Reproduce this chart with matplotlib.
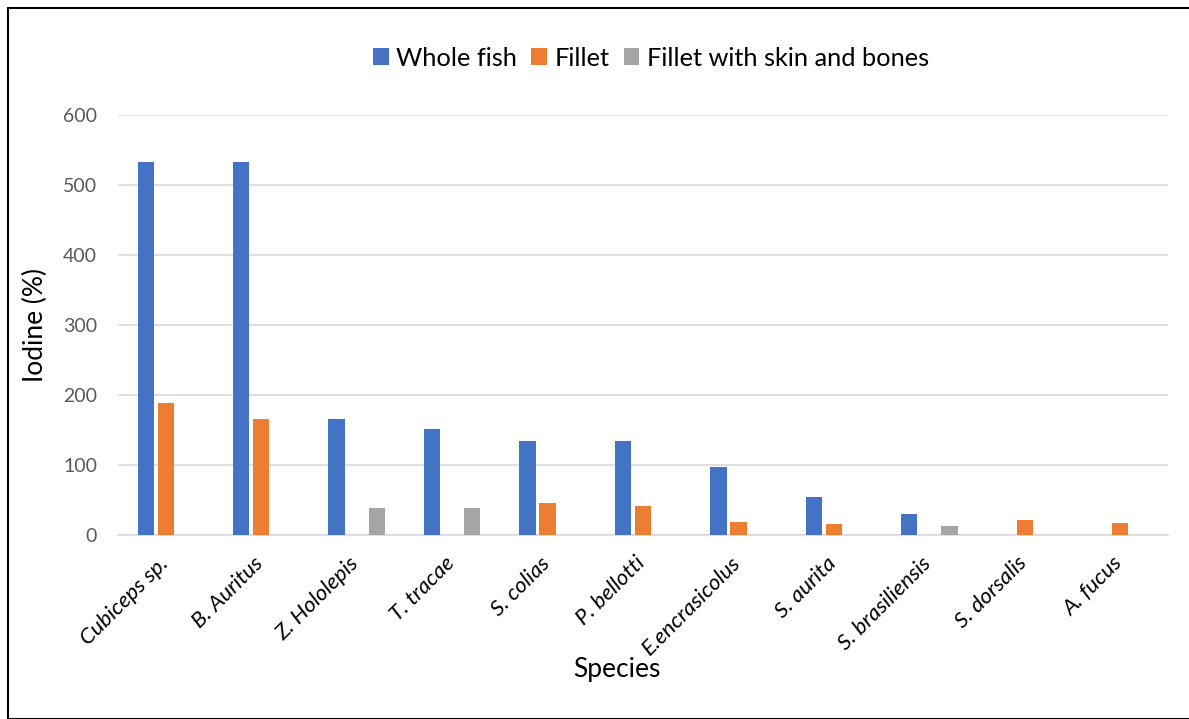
import matplotlib
matplotlib.use("Agg")
import matplotlib.pyplot as plt
import matplotlib.transforms as mtransforms
import numpy as np
from matplotlib.patches import Rectangle

species = ["Cubiceps sp.", "B. Auritus", "Z. Hololepis", "T. tracae", "S. colias",
           "P. bellotti", "E.encrasicolus", "S. aurita", "S. brasiliensis",
           "S. dorsalis", "A. fucus"]
whole_fish = [533, 533, 166, 152, 135, 135, 97, 54, 30, 0, 0]
fillet = [189, 166, 0, 0, 46, 41, 19, 16, 0, 21, 17]
fillet_skin_bones = [0, 0, 39, 39, 0, 0, 0, 0, 13, 0, 0]
series_names = ["Whole fish", "Fillet", "Fillet with skin and bones"]
colors = ["#4472C4", "#ED7D31", "#A5A5A5"]
yticks = [0, 100, 200, 300, 400, 500, 600]

plt.rcParams['font.family'] = ['Lato', 'DejaVu Sans']

W, H = 1189, 719
fig = plt.figure(figsize=(W/100, H/100), dpi=100)
ax = fig.add_axes([118/W, 1-535/H, (1168-118)/W, (535-115)/H])

x = np.arange(len(species))
slot = 0.21
bw = 0.17
handles = []
for i, (vals, name, c) in enumerate(zip([whole_fish, fillet, fillet_skin_bones], series_names, colors)):
    v = np.array(vals, dtype=float)
    mask = v > 0
    b = ax.bar(x[mask] + (i-1)*slot, v[mask], width=bw, color=c, label=name, zorder=3)
    handles.append(b)

ax.set_xlim(-0.5, len(species)-0.5)
ax.set_ylim(0, 600)
ax.set_yticks(yticks)
ax.set_yticklabels([str(t) for t in yticks], fontsize=14, color="#595959")
ax.yaxis.grid(True, color="#D9D9D9", linewidth=1.2, zorder=0)
ax.set_axisbelow(True)
for s in ["top", "right", "left"]:
    ax.spines[s].set_visible(False)
ax.spines["bottom"].set_color("#D9D9D9")
ax.spines["bottom"].set_linewidth(1.2)
ax.tick_params(axis="both", length=0)
ax.tick_params(axis="y", pad=15)
ax.set_xticks(x)
ax.set_xticklabels(species, rotation=45, ha="right", rotation_mode="anchor",
                   fontsize=16, style="italic", color="black")
ax.tick_params(axis="x", pad=13)
offset = mtransforms.ScaledTranslation(-8/100, 0, fig.dpi_scale_trans)
for lbl in ax.get_xticklabels():
    lbl.set_transform(lbl.get_transform() + offset)

ax.set_ylabel("Iodine (%)", fontsize=19, color="black")
ax.yaxis.set_label_coords((48-118)/1050, 0.5)
fig.text(617/W, 1-676.5/H, "Species", fontsize=19, ha="center", va="baseline", color="black")

leg = fig.legend(handles=handles, labels=series_names, loc="center", bbox_to_anchor=(651/W, 1-58/H),
                 ncol=3, frameon=False, fontsize=18.3, handlelength=0.62, handleheight=0.62,
                 handletextpad=0.3, columnspacing=0.55)

fig.patches.append(Rectangle((8/W, 0), 1.0, 1-8/H, transform=fig.transFigure,
                             fill=False, edgecolor="black", linewidth=1.5))

fig.savefig("out.png", dpi=100)
